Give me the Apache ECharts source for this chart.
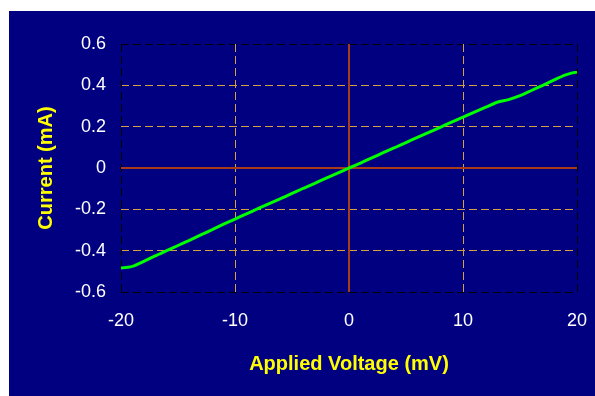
<!DOCTYPE html>
<html>
<head>
<meta charset="utf-8">
<script src="https://cdn.jsdelivr.net/npm/echarts@6/dist/echarts.min.js"></script>
<style>
html,body{margin:0;padding:0;background:#fff;}
#main{width:595px;height:396px;}
</style>
</head>
<body>
<div id="main"></div>
<script>
// applied voltage (mV) and measured current (mA)
var voltage=[-20,-19,-18,-17,-16,-15,-14,-13,-12,-11,-10,-9,-8,-7,-6,-5,-4,-3,-2,-1,0,
	1,2,3,4,5,6,7,8,9,10,11,12,13,14,15,16,17,18,19,20];
var current=[-0.484,-0.476,-0.452,-0.425,-0.400,-0.375,-0.350,-0.324,-0.298,-0.272,-0.247,
	-0.222,-0.197,-0.172,-0.148,-0.123,-0.098,-0.074,-0.049,-0.025,0,
	0.024,0.049,0.074,0.098,0.123,0.148,0.172,0.197,0.222,0.246,0.270,0.294,0.318,0.331,
	0.350,0.375,0.400,0.426,0.451,0.465];
var yTicks=[-0.6,-0.4,-0.2,0,0.2,0.4,0.6];

var gold='#D4A040';
var font='Liberation Sans, Arial, sans-serif';

var myChart=echarts.init(document.getElementById('main'));
var pts=[];
for(var i=0;i<voltage.length;++i){
	pts.push([voltage[i],current[i]]);
}
var option={
	backgroundColor:'#fff',
	animation:false,
	graphic:[{
		type:'rect',
		z:-10,
		shape:{x:9,y:11,width:586,height:385},
		style:{fill:'#000080'}
	}],
	grid:{left:121,right:18,top:44,bottom:104},
	xAxis:{
		type:'value',
		min:-20,max:20,interval:10,
		name:'Applied Voltage (mV)',
		nameLocation:'middle',
		nameGap:62,
		nameTextStyle:{color:'#FFFF00',fontSize:20,fontWeight:'bold',fontFamily:font},
		axisLine:{lineStyle:{color:'#000',width:2}},
		axisTick:{show:false},
		axisLabel:{color:'#fff',fontSize:18,fontFamily:font,margin:20},
		splitLine:{show:true,lineStyle:{type:[8,4],width:1,
			color:['#000',gold,'#C05020',gold,'#000']}}
	},
	yAxis:{
		type:'value',
		min:-0.6,max:0.6,interval:0.2,
		name:'Current (mA)',
		nameLocation:'middle',
		nameRotate:90,
		nameGap:65,
		nameTextStyle:{color:'#FFFF00',fontSize:20,fontWeight:'bold',fontFamily:font},
		axisLine:{lineStyle:{color:'#000',width:2}},
		axisTick:{show:false},
		axisLabel:{color:'#fff',fontSize:18,fontFamily:font,margin:15,
			formatter:function(v){
				var r=Math.round(v*10)/10;
				return yTicks.indexOf(r)>=0?String(r):'';
			}},
		splitLine:{show:true,lineStyle:{type:[8,4],width:1,
			color:['#000',gold,gold,'#E05020',gold,gold,'#000']}}
	},
	series:[{
		type:'line',
		data:pts,
		showSymbol:false,
		smooth:0.3,
		lineStyle:{color:'#00FF00',width:3},
		z:5,
		markLine:{
			silent:true,
			symbol:'none',
			label:{show:false},
			lineStyle:{type:'solid',width:1.5,color:'#E05020'},
			data:[{yAxis:0},{xAxis:0}]
		}
	}]
};
myChart.setOption(option);
</script>
</body>
</html>
